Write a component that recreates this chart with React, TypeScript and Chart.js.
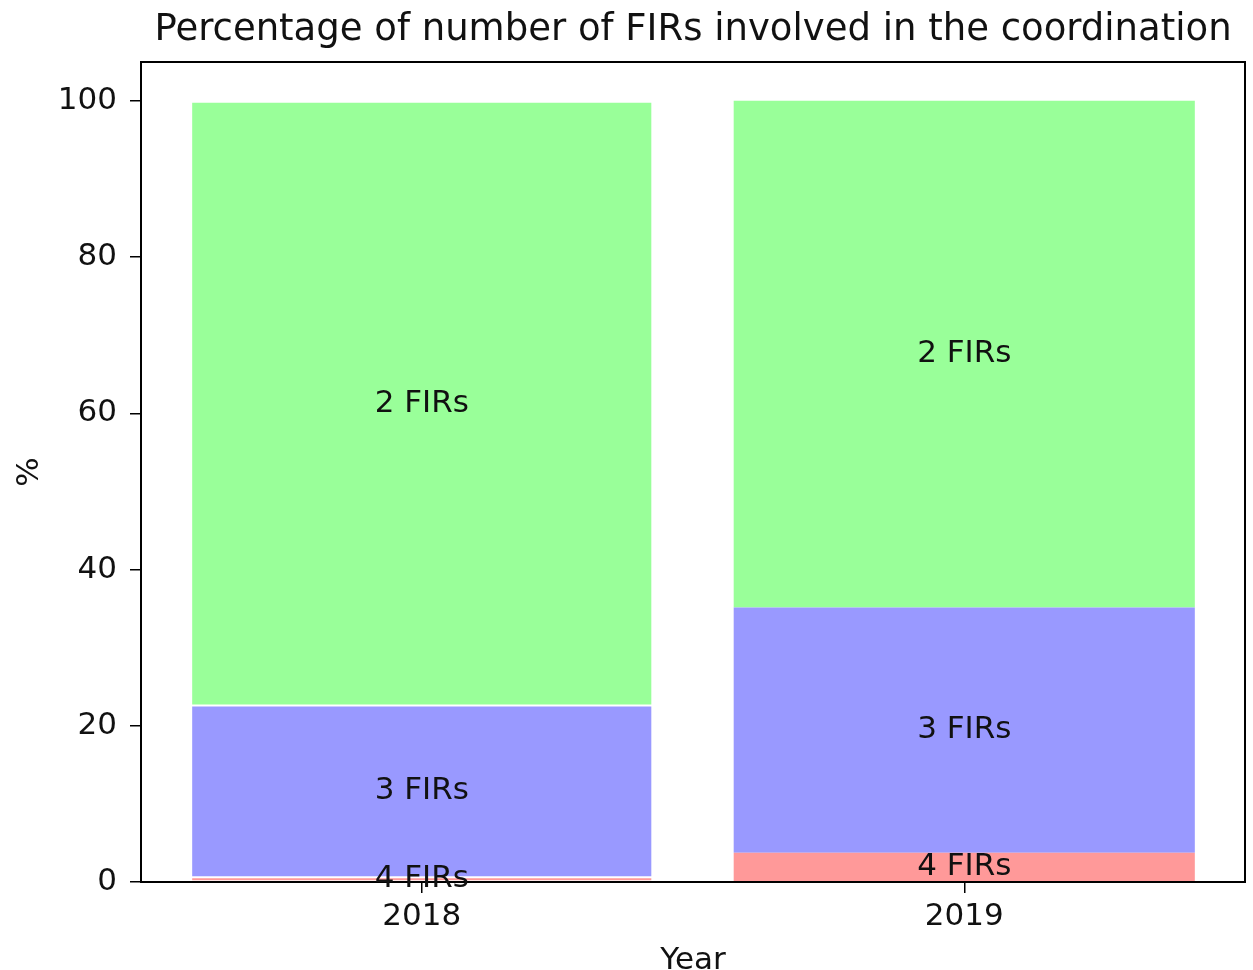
import React, { useEffect, useRef } from 'react';
import { Chart, registerables } from 'chart.js';

Chart.register(...registerables);

const years = ['2018', '2019'];
const seriesLabels = ['4 FIRs', '3 FIRs', '2 FIRs'];
const fir4 = [0.6, 3.75];
const fir3 = [22.0, 31.4];
const fir2 = [77.3, 64.9];
const seriesColors = ['#ff9999', '#9999ff', '#99ff99'];
const yTickValues = [0, 20, 40, 60, 80, 100];
const titleText = 'Percentage of number of FIRs involved in the coordination';

const FONT = '"DejaVu Sans", "Noto Sans", sans-serif';

export default function App() {
  const ref = useRef<HTMLCanvasElement>(null);

  useEffect(() => {
    const canvas = ref.current;
    if (!canvas) return;

    const frameAndLabels = {
      id: 'frameAndLabels',
      afterDatasetsDraw(chart: any) {
        const { ctx, chartArea: a } = chart;
        ctx.save();
        ctx.strokeStyle = '#000';
        ctx.lineWidth = 2;
        ctx.strokeRect(a.left, a.top, a.right - a.left, a.bottom - a.top);
        ctx.font = `31px ${FONT}`;
        ctx.fillStyle = '#111';
        ctx.textAlign = 'center';
        ctx.textBaseline = 'middle';
        chart.data.datasets.forEach((ds: any, di: number) => {
          const meta = chart.getDatasetMeta(di);
          meta.data.forEach((bar: any) => {
            const { x, y, base } = bar.getProps(['x', 'y', 'base'], true);
            ctx.fillText(ds.label, x, (y + base) / 2);
          });
        });
        ctx.restore();
      },
    };

    const seriesData = [fir4, fir3, fir2];

    const chart = new Chart(canvas, {
      type: 'bar',
      data: {
        datasets: seriesData.map((vals, si) => ({
          label: seriesLabels[si],
          data: vals.map((v, i) => ({ x: i, y: v })),
          backgroundColor: seriesColors[si],
          borderColor: '#ffffff',
          borderWidth: (c: any) => (c.dataIndex === 0 ? 1 : 0),
          borderSkipped: false,
          categoryPercentage: 1,
          barPercentage: 0.85,
        })),
      },
      options: {
        animation: false,
        responsive: true,
        maintainAspectRatio: false,
        layout: { padding: { left: 0, right: 8, top: 0, bottom: 0 } },
        plugins: {
          legend: { display: false },
          tooltip: { enabled: false },
          title: {
            display: true,
            fullSize: false,
            text: titleText,
            color: '#111',
            font: { family: FONT, size: 37, weight: 'normal', lineHeight: 1 },
            padding: { top: 12, bottom: 13 },
          },
        },
        scales: {
          x: {
            type: 'linear',
            min: -0.5175,
            max: 1.5175,
            offset: false,
            stacked: true,
            afterBuildTicks: (s: any) => {
              s.ticks = years.map((_, i) => ({ value: i }));
            },
            afterFit: (s: any) => {
              s.height = 88;
            },
            ticks: {
              autoSkip: false,
              maxRotation: 0,
              color: '#111',
              padding: 5,
              font: { family: FONT, size: 31 },
              callback: (v: any) => years[v as number] ?? '',
            },
            grid: {
              offset: false,
              drawOnChartArea: false,
              drawTicks: true,
              tickLength: 11,
              color: '#000',
              lineWidth: 1.5,
            },
            border: { display: false },
            title: {
              display: true,
              text: 'Year',
              color: '#111',
              font: { family: FONT, size: 31, lineHeight: 1 },
              padding: { top: 0, bottom: -6 },
            },
          },
          y: {
            min: 0,
            max: 105,
            stacked: true,
            afterBuildTicks: (s: any) => {
              s.ticks = yTickValues.map((v) => ({ value: v }));
            },
            afterFit: (s: any) => {
              s.width = 141;
            },
            ticks: {
              color: '#111',
              padding: 13,
              font: { family: FONT, size: 31 },
            },
            grid: {
              drawOnChartArea: false,
              drawTicks: true,
              tickLength: 11,
              color: '#000',
              lineWidth: 1.5,
            },
            border: { display: false },
            title: {
              display: true,
              text: '%',
              color: '#111',
              font: { family: FONT, size: 31, lineHeight: 1.2 },
              padding: { top: 11, bottom: 0 },
            },
          },
        },
      },
      plugins: [frameAndLabels],
    } as any);

    return () => chart.destroy();
  }, []);

  return (
    <div style={{ position: 'absolute', left: 0, top: 0, width: 1253, height: 970, background: '#fff' }}>
      <canvas ref={ref} />
    </div>
  );
}
